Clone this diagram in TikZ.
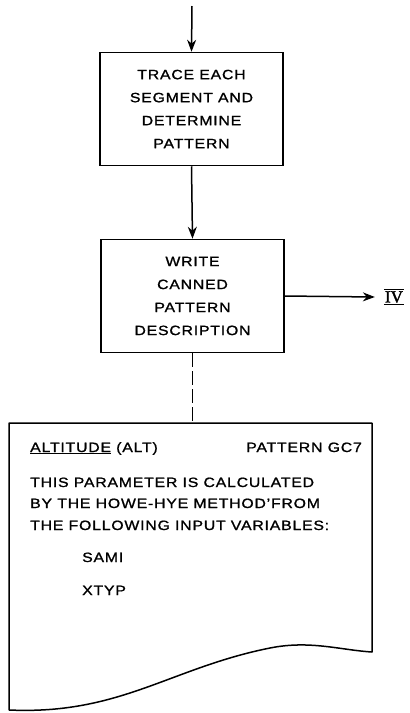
\documentclass[tikz,border=0pt]{standalone}
\usepackage{fontspec}
\setmainfont{Liberation Sans}[FakeStretch=1.17,LetterSpace=6,FakeBold=1.2]
\newfontfamily\ivfont{Liberation Serif}[FakeBold=2]
\usetikzlibrary{arrows.meta}
\tikzset{
  procbox/.style={draw, line width=1.5pt, minimum width=183pt, minimum height=113pt, align=center, font=\fontsize{13.5pt}{23pt}\selectfont, inner sep=0pt},
  flow/.style={line width=1.5pt, -{Stealth[length=12pt,width=9pt]}},
  doctext/.style={anchor=base west, inner sep=0pt, font=\fontsize{13.5pt}{17pt}\selectfont},
}
\begin{document}
\begin{tikzpicture}[x=1pt,y=-1pt]
\useasboundingbox (0,0) rectangle (410,713);
\coordinate (start) at (192,6);
\node[procbox] (b1) at (191.5,109) {TRACE EACH\\SEGMENT AND\\DETERMINE\\PATTERN};
\node[procbox] (b2) at (192.5,296) {WRITE\\CANNED\\PATTERN\\DESCRIPTION};
\node[inner xsep=1pt, inner ysep=1.5pt, font=\fontsize{17pt}{17pt}\selectfont\ivfont] (iv) at (394,297) {IV};
\draw[line width=1.2pt] (iv.north west) -- (iv.north east);
\draw[line width=1.2pt] (iv.south west) -- (iv.south east);
\draw[flow] (start) -- (b1.north);
\draw[flow] (b1.south) -- (b2.north);
\draw[flow] (b2.east) -- ([xshift=-9pt]iv.west);
% document shape
\coordinate (doctop) at (192.5,423);
\draw[line width=1.5pt, line join=round]
  (9,710) -- (9,423) -- (372,423) -- (372,652)
  .. controls (340,650) and (310,640) .. (270,648)
  .. controls (170,668) and (120,715) .. (9,710);
\draw[line width=1.5pt, dash pattern=on 14pt off 4pt] (b2.south) -- (doctop);
\node[doctext] (t1) at (30,452) {\underline{ALTITUDE} (ALT)};
\node[doctext, anchor=base east] (t2) at (362,452) {PATTERN GC7};
\node[doctext] (t3) at (30,487) {THIS PARAMETER IS CALCULATED};
\node[doctext] (t4) at (30,508) {BY THE HOWE-HYE METHOD'FROM};
\node[doctext] (t5) at (30,530) {THE FOLLOWING INPUT VARIABLES:};
\node[doctext] (t6) at (82,562) {SAMI};
\node[doctext] (t7) at (82,595) {XTYP};
\end{tikzpicture}
\end{document}
